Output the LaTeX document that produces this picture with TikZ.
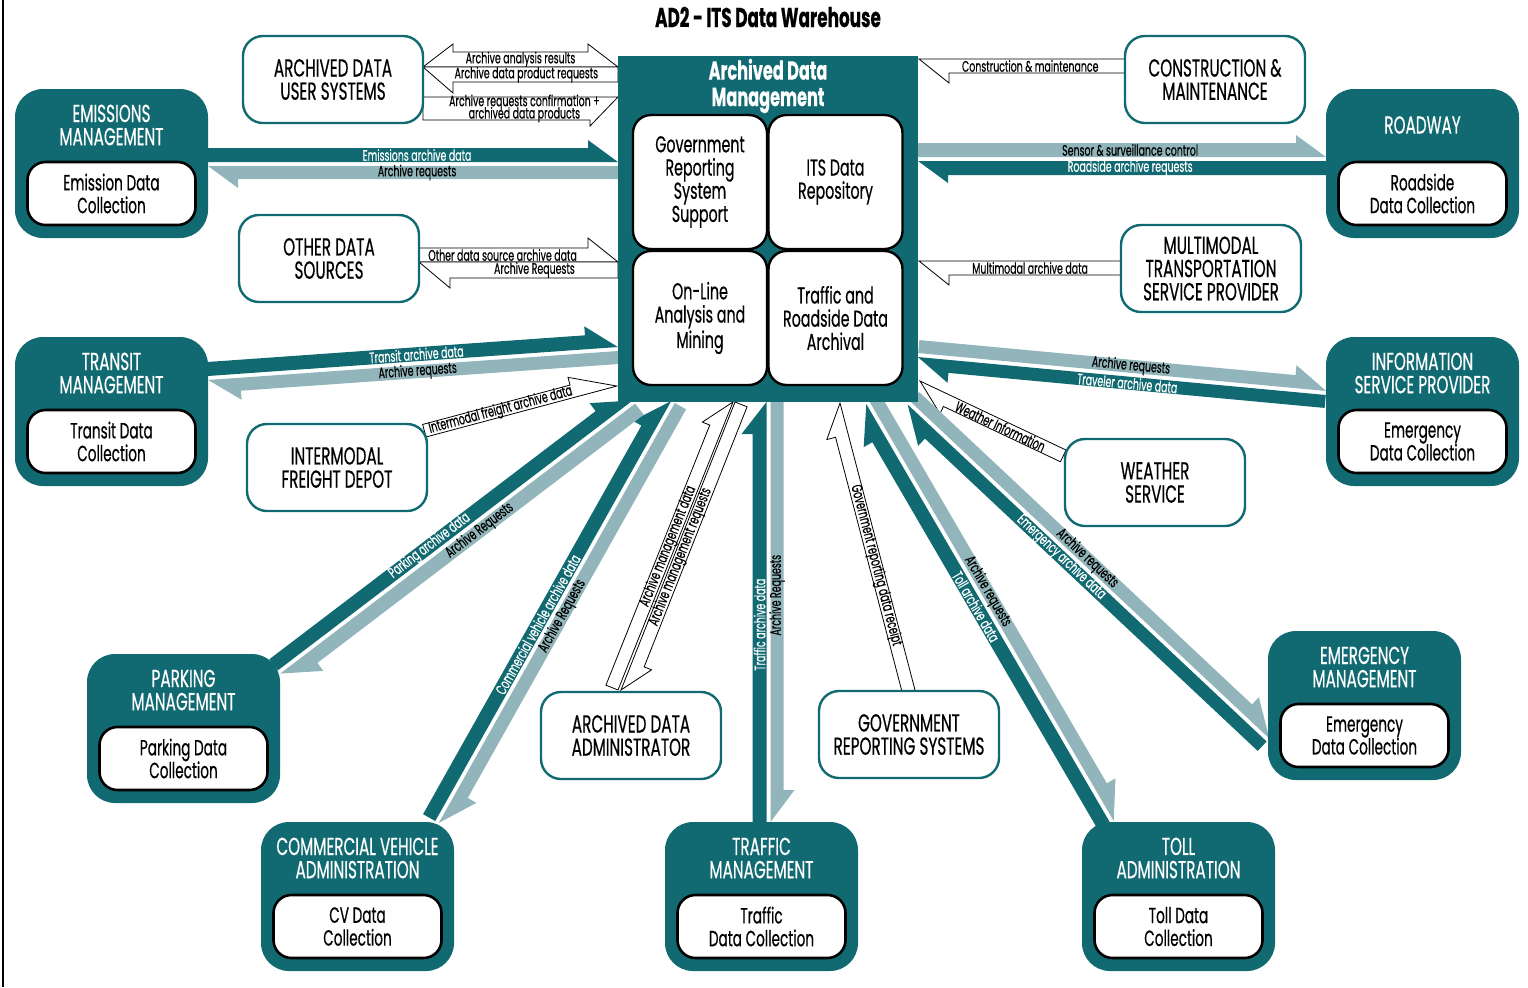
\documentclass[tikz,border=0pt]{standalone}
\usepackage{fontspec}
\setmainfont[FakeStretch=0.62,FakeBold=0.45]{Poppins}
\usetikzlibrary{calc}
\definecolor{dteal}{RGB}{17,106,114}
\definecolor{lteal}{RGB}{145,181,186}
\pgfdeclarelayer{bg}
\pgfsetlayers{bg,main}

\newcommand\boxfont{\fontsize{12.3}{11.6}\selectfont}
\newcommand\innerfont{\fontsize{11}{11.4}\selectfont}
\newcommand\cenfont{\fontsize{11.5}{11.6}\selectfont}
\newcommand\arrfont{\fontsize{7.6}{6.4}\selectfont}

\tikzset{
  every node/.style={inner sep=0pt, outer sep=0pt},
  wbox/.style={draw=dteal, line width=1.2pt, fill=white, rounded corners=10pt,
    minimum width=90pt, minimum height=43.5pt, align=center, font=\boxfont},
  tbox/.style={fill=dteal, rounded corners=14pt, minimum width=96.5pt, minimum height=74.5pt},
  thead/.style={text=white, align=center, font=\boxfont},
  ibox/.style={draw=black, line width=1.3pt, fill=white, rounded corners=9pt,
    minimum width=84pt, minimum height=31.5pt, align=center, font=\innerfont},
  cbox/.style={draw=black, line width=1.2pt, fill=white, rounded corners=9pt,
    minimum width=67pt, minimum height=67pt, align=center, font=\cenfont},
  dkband/.style={fill=dteal},
  ltband/.style={fill=lteal},
  whband/.style={draw=black, line width=0.4pt, fill=white},
  dktxt/.style={text=white, font=\arrfont, align=center},
  lttxt/.style={text=black, font=\arrfont, align=center},
  whtxt/.style={text=black, font=\arrfont, align=center},
}

\newcommand\fsetup[2]{%
  \coordinate (fT) at #1;\coordinate (fH) at #2;%
  \pgfpointdiff{\pgfpointanchor{fT}{center}}{\pgfpointanchor{fH}{center}}%
  \pgfgetlastxy{\fdx}{\fdy}%
  \pgfmathsetmacro\fang{atan2(\fdy,\fdx)}%
  \pgfmathsetmacro\flen{2*veclen(\fdx,\fdy)}%
  \pgfmathsetmacro\ftang{\fang>90.5 ? \fang-180 : (\fang<-89.5 ? \fang+180 : \fang)}%
}
% [pos]{tail}{tip}{offset}{width}{barb}{headlength}{kind}{label}
\newcommand\flow[9][0.5]{%
  \fsetup{#2}{#3}%
  \begin{scope}[shift={(fT)},rotate=\fang,x=0.5pt,y=0.5pt]
    \path[#8band] (0,{#4}) -- (\flen,{#4}) -- ({\flen-(#7)},{(#4)+(#5)+(#6)})
      -- ({\flen-(#7)},{(#4)+(#5)}) -- (0,{(#4)+(#5)}) -- cycle;
    \node[#8txt,rotate=\ftang] at ({(#1)*\flen},{(#4)+(#5)/2}) {#9};
  \end{scope}}
\newcommand\dflow[9][0.5]{%
  \fsetup{#2}{#3}%
  \begin{scope}[shift={(fT)},rotate=\fang,x=0.5pt,y=0.5pt]
    \path[#8band] (0,{#4}) -- (\flen,{#4}) -- ({\flen-(#7)},{(#4)+(#5)+(#6)})
      -- ({\flen-(#7)},{(#4)+(#5)}) -- ({#7},{(#4)+(#5)}) -- ({#7},{(#4)+(#5)+(#6)}) -- cycle;
    \node[#8txt,rotate=\ftang] at ({(#1)*\flen},{(#4)+(#5)/2}) {#9};
  \end{scope}}

\newcommand\tealbox[5]{%
  \node[tbox] (#1) at ({#2+96.5},{#3+74.5}) {};
  \node[thead] (#1h) at ({#2+96.5},{#3+36}) {#4};
  \node[ibox] (#1i) at ({#2+96.5},{#3+104.5}) {#5};}
\newcommand\whitebox[4]{\node[wbox] (#1) at ({#2+90},{#3+43.5}) {#4};}

\begin{document}
\begin{tikzpicture}[x=0.5pt,y=-0.5pt]
\useasboundingbox (0,0) rectangle (1528,987);
\draw[black, line width=1pt] (3,0) -- (3,987);

\node[font=\bfseries\fontsize{13.6}{13}\selectfont] (title) at (768,17) {AD2 - ITS Data Warehouse};

% central box
\node[fill=dteal, minimum width=150pt, minimum height=173pt] (adm) at (768,229) {};
\node[text=white, align=center, font=\bfseries\fontsize{13}{13.2}\selectfont] (admh) at (768,86) {Archived Data\\Management};
\node[cbox] (grss) at (700,182) {Government\\Reporting\\System\\Support};
\node[cbox] (itsdr) at (835.5,182) {ITS Data\\Repository};
\node[cbox] (olam) at (700,318) {On-Line\\Analysis and\\Mining};
\node[cbox] (trda) at (835.5,318) {Traffic and\\Roadside Data\\Archival};

% white boxes
\whitebox{adus}{243}{36}{ARCHIVED DATA\\USER SYSTEMS}
\whitebox{ods}{239}{215}{OTHER DATA\\SOURCES}
\whitebox{ifd}{247}{424}{INTERMODAL\\FREIGHT DEPOT}
\whitebox{cm}{1125}{36}{CONSTRUCTION \&\\MAINTENANCE}
\whitebox{mtsp}{1121}{225}{MULTIMODAL\\TRANSPORTATION\\SERVICE PROVIDER}
\whitebox{ws}{1065}{439}{WEATHER\\SERVICE}
\whitebox{ada}{541}{692}{ARCHIVED DATA\\ADMINISTRATOR}
\whitebox{grs}{819}{691}{GOVERNMENT\\REPORTING SYSTEMS}

% teal boxes
\tealbox{emis}{15}{89}{EMISSIONS\\MANAGEMENT}{Emission Data\\Collection}
\tealbox{trans}{15}{337}{TRANSIT\\MANAGEMENT}{Transit Data\\Collection}
\tealbox{road}{1326}{89}{ROADWAY}{Roadside\\Data Collection}
\tealbox{isp}{1326}{337}{INFORMATION\\SERVICE PROVIDER}{Emergency\\Data Collection}
\tealbox{park}{87}{654}{PARKING\\MANAGEMENT}{Parking Data\\Collection}
\tealbox{cva}{261}{822}{COMMERCIAL VEHICLE\\ADMINISTRATION}{CV Data\\Collection}
\tealbox{tm}{665}{822}{TRAFFIC\\MANAGEMENT}{Traffic\\Data Collection}
\tealbox{toll}{1082}{822}{TOLL\\ADMINISTRATION}{Toll Data\\Collection}
\tealbox{em}{1268}{631}{EMERGENCY\\MANAGEMENT}{Emergency\\Data Collection}

\begin{pgfonlayer}{bg}
% archived data user systems
\dflow[0.5]{(423,67)}{(618,67)}{0}{15}{8}{30}{wh}{Archive analysis results}
\flow[0.47]{(618,67)}{(423,67)}{0}{15}{11}{30}{wh}{Archive data product requests}
\flow[0.52]{(423,97)}{(618,97)}{0}{-23}{-6}{28}{wh}{Archive requests confirmation +\\[-2.6pt]archived data products}
% other data sources
\flow[0.42]{(419,262)}{(618,262)}{0}{14}{10}{30}{wh}{Other data source archive data}
\flow[0.42]{(618,262)}{(419,262)}{0}{16}{10}{31}{wh}{Archive Requests}
% intermodal
\flow[0.4]{(426,437)}{(617,386)}{0}{13}{8}{45}{wh}{Intermodal freight archive data}
% emissions
\flow[0.51]{(208,164)}{(618,164)}{2}{14}{8}{30}{dk}{Emissions archive data}
\flow[0.49]{(618,164)}{(208,164)}{2}{13}{9}{30}{lt}{Archive requests}
% transit
\flow[0.51]{(208,378)}{(618,349)}{2}{14}{9}{32}{dk}{Transit archive data}
\flow[0.49]{(618,349)}{(208,378)}{2}{13}{9}{32}{lt}{Archive requests}
% roadway
\flow[0.52]{(918,159)}{(1326,159)}{2}{14}{8}{30}{lt}{Sensor \& surveillance control}
\flow[0.48]{(1326,159)}{(918,159)}{2}{14}{8}{30}{dk}{Roadside archive requests}
% construction, multimodal
\flow[0.46]{(1125,59)}{(919,59)}{0}{14}{10}{30}{wh}{Construction \& maintenance}
\flow[0.45]{(1121,261)}{(919,261)}{0}{14}{10}{30}{wh}{Multimodal archive data}
% information service provider
\flow[0.52]{(918,355)}{(1326,393)}{2}{13}{10}{32}{lt}{Archive requests}
\flow[0.485]{(1326,393)}{(918,355)}{2}{13}{10}{32}{dk}{Traveler archive data}
% weather
\flow[0.43]{(1066,450)}{(920,381)}{0}{13}{8}{32}{wh}{Weather Information}
% emergency
\flow[0.48]{(909,403)}{(1268,740)}{2}{13}{10}{36}{lt}{Archive requests}
\flow[0.56]{(1268,740)}{(909,403)}{2}{13}{10}{36}{dk}{Emergency archive data}
% toll
\flow[0.46]{(868,403)}{(1112,822)}{2}{13}{10}{36}{lt}{Archive requests}
\flow[0.525]{(1112,822)}{(868,403)}{2}{14}{10}{36}{dk}{Toll archive data}
% traffic
\flow[0.47]{(768.5,822)}{(768.5,402)}{2}{14}{11}{32}{dk}{Traffic archive data}
\flow[0.46]{(768.5,402)}{(768.5,822)}{2}{13}{11}{32}{lt}{Archive Requests}
% commercial vehicle
\flow[0.46]{(437,822)}{(673,402)}{2}{14}{10}{36}{dk}{Commercial vehicle archive data}
\flow[0.5]{(673,402)}{(437,822)}{2}{13}{10}{36}{lt}{Archive Requests}
% parking
\flow[0.44]{(279,672)}{(634,402)}{2}{14}{10}{36}{dk}{Parking archive data}
\flow[0.45]{(634,402)}{(279,672)}{2}{14}{10}{36}{lt}{Archive Requests}
% archived data administrator
\flow[0.49]{(618,690)}{(733,402)}{0}{13}{8}{30}{wh}{Archive management data}
\flow[0.53]{(735,402)}{(621,690)}{0}{13}{8}{30}{wh}{Archive management requests}
% government reporting
\flow[0.44]{(915,690)}{(840,403)}{0}{13}{9}{32}{wh}{Government reporting data receipt}
\end{pgfonlayer}
\end{tikzpicture}
\end{document}
